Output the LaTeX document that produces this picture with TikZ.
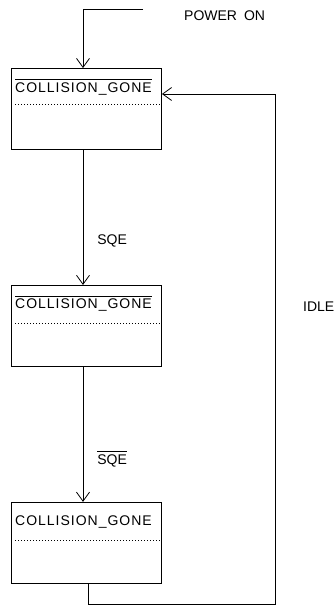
\documentclass[tikz,border=0pt]{standalone}
\usepackage{fontspec}
\setmainfont{Liberation Sans}
\newfontfamily\boxfont[LetterSpace=7]{Liberation Sans}
\usetikzlibrary{arrows.meta, positioning}
\newcommand{\barred}[1]{$\overline{\rule{0pt}{11.5pt}\mbox{#1}}$}

\begin{document}
\begin{tikzpicture}[
    x=1pt, y=-1pt,
    node distance=135pt,
    state/.style={draw, line width=0.9pt, minimum width=150pt, minimum height=81pt, inner sep=0pt},
    lbl/.style={inner sep=0pt, font=\fontsize{14}{17}\selectfont},
    sep/.style={line width=0.6pt, dash pattern=on 0.6pt off 2.4pt},
    arrow/.style={-{Straight Barb[length=9pt, width=13pt]}, line width=0.8pt}
]
\useasboundingbox (0,0) rectangle (335,606);

\node[state] (s1) at (86.5,109) {};
\node[state, below=of s1] (s2) {};
\node[state, below=of s2] (s3) {};

\node[lbl, anchor=base west, font=\fontsize{14}{17}\boxfont] (n1) at ([xshift=4pt, yshift=-24pt]s1.north west) {\barred{COLLISION\_GONE}};
\node[lbl, anchor=base west, font=\fontsize{14}{17}\boxfont] (n2) at ([xshift=4pt, yshift=-24pt]s2.north west) {\barred{COLLISION\_GONE}};
\node[lbl, anchor=base west, font=\fontsize{14}{17}\boxfont] (n3) at ([xshift=4pt, yshift=-24pt]s3.north west) {COLLISION\_GONE};

\draw[sep] ([xshift=4pt, yshift=-36pt]s1.north west) -- ([yshift=-36pt]s1.north east);
\draw[sep] ([xshift=4pt, yshift=-38pt]s2.north west) -- ([yshift=-38pt]s2.north east);
\draw[sep] ([xshift=4pt, yshift=-38pt]s3.north west) -- ([yshift=-38pt]s3.north east);

\coordinate (pwr) at (143,9);
\coordinate (ret) at (275,604);
\node[lbl, anchor=base west] (pwrlbl) at (184,20) {POWER\hspace{7pt}ON};
\node[lbl, anchor=base west] (idle) at (303,311) {IDLE};

\draw[arrow] (pwr) -| ([xshift=-3.5pt]s1.north);
\draw[arrow] ([xshift=-3.5pt]s1.south) -- node[lbl, pos=0.7, anchor=base west, xshift=14pt] {SQE} ([xshift=-3.5pt]s2.north);
\draw[arrow] ([xshift=-3.5pt]s2.south) -- node[lbl, pos=0.72, anchor=base west, xshift=14pt] {\barred{SQE}} ([xshift=-3.5pt]s3.north);
\draw[arrow] ([xshift=1.5pt]s3.south) |- (ret) |- ([yshift=15pt]s1.east);
\end{tikzpicture}
\end{document}
